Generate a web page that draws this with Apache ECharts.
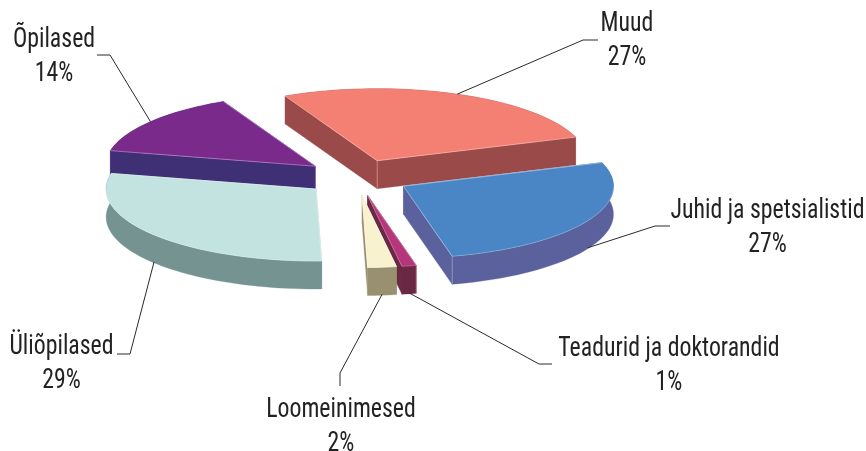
<!DOCTYPE html>
<html><head><meta charset="utf-8">
<script src="https://cdn.jsdelivr.net/npm/echarts@6/dist/echarts.min.js"></script>
<style>html,body{margin:0;padding:0;background:#fff}#c{width:866px;height:451px}</style>
</head><body><div id="c"></div>
<script>
// Data, clockwise from the pie's start angle (labels show rounded shares)
const categories = ['Muud','Juhid ja spetsialistid','Teadurid ja doktorandid','Loomeinimesed','Üliõpilased','Õpilased'];
const shares = [26.9,26.6,1.1,2.2,28.9,14.3];
const topColors = ['#F47F73','#4A86C5','#B5367A','#F8F3CE','#C3E3E0','#7A2A8B'];
const sideColors = ['#9B4A4A','#5A619C','#6A2845','#999070','#749391','#3F2F75'];
const edgeColors = ['#F9B5AE','#A9C8E8','#D98BB5','#FFFDF0','#EAF6F5','#B98AC8'];
const cornerEdge = ['apex','last','first',null,null,'apex'];

// Label placement: elbow of the leader, end of the leader, label centre
const labelLayout = [
  {elbow:[583,40], end:[598,40], at:[627,41]},
  {elbow:[655,226], end:[670,226], at:[767.5,228]},
  {elbow:[539,364], end:[552,364], at:[669,366]},
  {elbow:[340,373], end:[340,386], at:[341,427]},
  {elbow:[130,354], end:[117,354], at:[61.5,364]},
  {elbow:[110,55], end:[97,55], at:[54,57]}
];

// Projection of the pie
const CX=357, CY=177.5, RX=210, RY=72, DEPTH=28, EXPLODE=53, START=116;
const total = shares.reduce((a,b)=>a+b,0);
const spans = []; let acc = START;
shares.forEach(v=>{ const sweep=v/total*360; spans.push([acc,acc-sweep]); acc-=sweep; });
const rad = d=>d*Math.PI/180;
const mids = spans.map(s=>(s[0]+s[1])/2);
const paintRank = mids.map(m=>mids.filter(o=>Math.sin(rad(o))>Math.sin(rad(m))).length);

function renderSlice(params, api){
  const i = params.dataIndex, [a0,a1] = spans[i], m = mids[i];
  const ox = CX+EXPLODE*Math.cos(rad(m)), oy = CY-EXPLODE*RY/RX*Math.sin(rad(m));
  const rim = a=>[ox+RX*Math.cos(rad(a)), oy-RY*Math.sin(rad(a))];
  const down = p=>[p[0],p[1]+DEPTH];
  const arc=[]; const n=Math.max(4,Math.ceil((a0-a1)/2));
  for(let k=0;k<=n;k++) arc.push(rim(a0+(a1-a0)*k/n));
  const apex=[ox,oy], base=10*paintRank[i];
  const side=sideColors[i], children=[];
  const poly=(pts,fill,z)=>children.push({type:'polygon',z2:base+z,shape:{points:pts},
    style:{fill,stroke:fill,lineWidth:0.3}});

  // leader line
  const anchor = rim(m); if(Math.sin(rad(m))<0) anchor[1]+=DEPTH-1;
  const L = labelLayout[i];
  children.push({type:'polyline',z2:100,shape:{points:[anchor,L.elbow,L.end]},
    style:{fill:null,stroke:'#2a2a2a',lineWidth:1}});

  // cut faces and outer wall
  const first=arc[0], last=arc[arc.length-1];
  poly([apex,first,down(first),down(apex)],side,1);
  poly([apex,last,down(last),down(apex)],side,1);
  poly(arc.concat(arc.slice().reverse().map(down)),side,2);
  // top
  poly([apex].concat(arc),topColors[i],3);
  // light edges
  children.push({type:'polyline',z2:base+4,shape:{points:[first,apex,last]},
    style:{fill:null,stroke:edgeColors[i],lineWidth:0.7}});
  const lower = arc.filter(p=>p[1]>oy);
  if(lower.length>1) children.push({type:'polyline',z2:base+4,shape:{points:lower},
    style:{fill:null,stroke:edgeColors[i],lineWidth:0.6,opacity:0.7}});
  const c = cornerEdge[i];
  if(c){ const p = c==='apex'?apex:c==='first'?first:last;
    children.push({type:'polyline',z2:base+4,shape:{points:[p,down(p)]},
      style:{fill:null,stroke:edgeColors[i],lineWidth:0.6,opacity:0.8}}); }

  // label
  children.push({type:'text',z2:101,x:L.at[0],y:L.at[1],scaleX:0.85,style:{
    text:categories[i]+'\n'+Math.round(api.value(0))+'%',x:0,y:0,align:'center',verticalAlign:'middle',
    fontFamily:'"Liberation Sans Narrow","Roboto Condensed","DejaVu Sans Condensed",sans-serif',
    fontSize:28,fontWeight:400,lineHeight:34,fill:'#222'}});
  return {type:'group',children};
}

const chart = echarts.init(document.getElementById('c'),null,{renderer:'canvas'});
chart.setOption({
  backgroundColor:'#fff', animation:false,
  series:[{type:'custom',coordinateSystem:'none',renderItem:renderSlice,
    data:shares.map((v,i)=>({name:categories[i],value:[v]}))}]
});
</script></body></html>
